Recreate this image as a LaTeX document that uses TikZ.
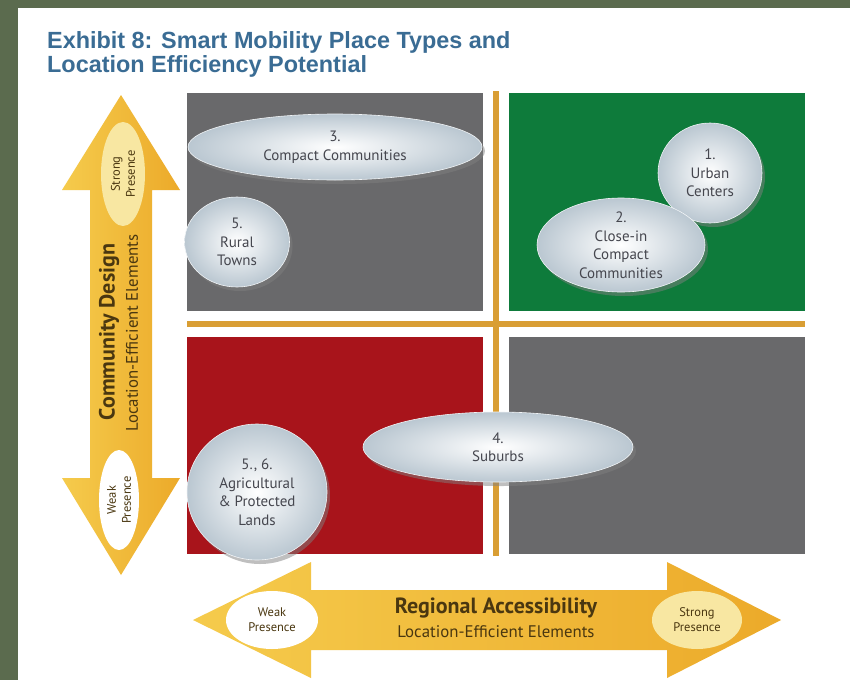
\documentclass[tikz,border=0pt]{standalone}
\usepackage{fontspec}
\setmainfont{PT Sans}
\newfontfamily\titlefont{Liberation Sans}
\usetikzlibrary{shadows,shapes.geometric}
\definecolor{framecol}{HTML}{5B6B4E}
\definecolor{titleblue}{HTML}{3A6C94}
\definecolor{qgray}{HTML}{69696B}
\definecolor{qgreen}{HTML}{0E7B3B}
\definecolor{qred}{HTML}{A8141B}
\definecolor{goldline}{HTML}{D99E34}
\definecolor{arrowlight}{HTML}{F5CB4C}
\definecolor{arrowdark}{HTML}{ECAA2A}
\definecolor{arrowtext}{HTML}{4A3710}
\definecolor{bubbletext}{HTML}{45464E}
\definecolor{bubbleedge}{HTML}{BAC7D1}
\definecolor{paleyellow}{HTML}{F8E7A2}
\begin{document}
\begin{tikzpicture}[x=1pt,y=-1pt,
  bubble/.style={ellipse, inner sep=0pt, shade, inner color=white, outer color=bubbleedge,
    draw=white!80!bubbleedge, line width=0.6pt,
    drop shadow={shadow xshift=3pt,shadow yshift=-4pt,opacity=.5},
    align=center, text=bubbletext, font=\fontsize{15}{18.5}\selectfont},
  presence/.style={ellipse, inner sep=0pt, align=center, text=arrowtext,
    font=\fontsize{12.5}{15}\selectfont},
  axistitle/.style={text=arrowtext, font=\bfseries\fontsize{22}{25}\selectfont, inner sep=0pt},
  axissub/.style={text=arrowtext, font=\fontsize{16.8}{19}\selectfont, inner sep=0pt},
  titletext/.style={anchor=base west, inner sep=0pt, text=titleblue,
    font=\titlefont\bfseries\fontsize{23.4}{24}\selectfont}
]
\useasboundingbox (0,0) rectangle (850,680);
\fill[framecol] (0,0) rectangle (850,680);
\fill[white] (18,8) rectangle (850,680);

% title
\node[titletext] (title1) at (47,48) {Exhibit 8: Smart Mobility Place Types and};
\node[titletext] (title2) at (47,72) {Location Efficiency Potential};

% quadrants
\fill[qgray]  (187,93)  rectangle (483,311);
\fill[qgreen] (509,93)  rectangle (805,311);
\fill[qred]   (187,337) rectangle (483,554);
\fill[qgray]  (509,337) rectangle (805,554);
\draw[goldline, line width=6pt] (496,91) -- (496,556);
\draw[goldline, line width=6pt] (187,324) -- (805,324);

% bubbles
\node[bubble, minimum width=294, minimum height=66] (b3) at (335,147) {3.\\Compact Communities};
\node[bubble, minimum width=105, minimum height=90] (b5) at (237,242) {5.\\Rural\\Towns};
\node[bubble, minimum width=104, minimum height=100] (b1) at (710,173) {1.\\Urban\\Centers};
\node[bubble, minimum width=168, minimum height=94] (b2) at (621,245) {2.\\Close-in\\Compact\\Communities};
\node[bubble, minimum width=270, minimum height=70] (b4) at (498,447) {4.\\Suburbs};
\node[bubble, minimum width=140, minimum height=136] (b6) at (257,492) {5., 6.\\Agricultural\\\& Protected\\Lands};

% vertical arrow
\path[left color=arrowlight, right color=arrowdark]
  (121,95) -- (180,190) -- (152,190) -- (152,478) -- (180,478) -- (121,575)
  -- (62,478) -- (90,478) -- (90,190) -- (62,190) -- cycle;
\node[presence, fill=paleyellow, rotate=90, minimum width=104, minimum height=44] (vstrong) at (123,174) {Strong\\Presence};
\node[presence, fill=white, rotate=90, minimum width=100, minimum height=40] (vweak) at (119,500) {Weak\\Presence};
\node[axistitle, rotate=90] (vtitle) at (109,332) {Community Design};
\node[axissub, rotate=90] (vsub) at (132,333) {Location-Efficient Elements};

% horizontal arrow
\path[left color=arrowlight, right color=arrowdark]
  (193,620) -- (311,562) -- (311,590) -- (667,590) -- (667,562) -- (781,620)
  -- (667,678) -- (667,650) -- (311,650) -- (311,678) -- cycle;
\node[presence, fill=white, minimum width=92, minimum height=58] (hweak) at (272,620) {Weak\\Presence};
\node[presence, fill=paleyellow, minimum width=90, minimum height=58] (hstrong) at (697,620) {Strong\\Presence};
\node[axistitle] (htitle) at (496,608) {Regional Accessibility};
\node[axissub] (hsub) at (496,632) {Location-Efficient Elements};
\end{tikzpicture}
\end{document}
